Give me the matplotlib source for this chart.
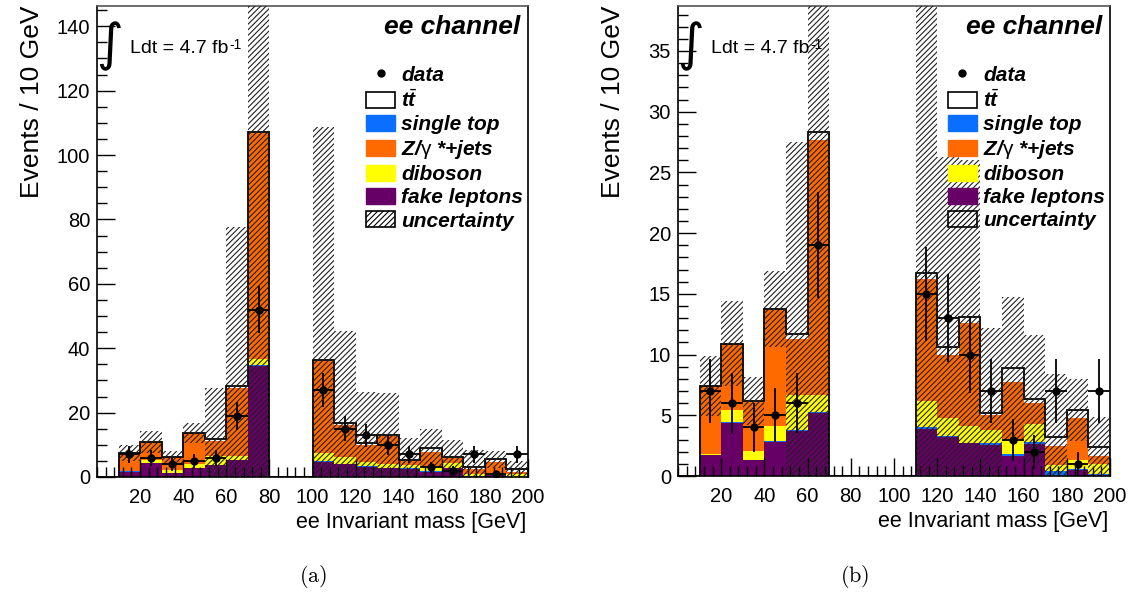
import numpy as np
import matplotlib.pyplot as plt
from matplotlib.patches import Patch
from matplotlib.lines import Line2D
from matplotlib.ticker import MultipleLocator

plt.rcParams['font.family'] = ['Liberation Sans', 'DejaVu Sans']
plt.rcParams['mathtext.fontset'] = 'custom'
plt.rcParams['mathtext.rm'] = 'Liberation Sans'
plt.rcParams['mathtext.it'] = 'Liberation Sans:italic:bold'
plt.rcParams['mathtext.bf'] = 'Liberation Sans:bold'
plt.rcParams['hatch.linewidth'] = 0.8

# colours of the stack
c_tt = 'white'
c_st = '#0A6EFF'
c_z = '#FF6A00'
c_db = '#FFFF00'
c_fk = '#660066'

# ---- panel (a): bin low edges [GeV], 10 GeV bins
lo_a = [10, 20, 30, 40, 50, 60, 70, 100, 110, 120, 130, 140, 150, 160, 170, 180, 190]
fake_a = [1.7, 4.4, 1.3, 2.8, 3.7, 5.2, 34.6, 4.8, 3.9, 3.2, 2.7, 2.55, 1.65, 2.65, 0.0, 0.5, 0.1]
stop_a = [0.05, 0.05, 0.02, 0.05, 0.05, 0.05, 0.2, 0.15, 0.1, 0.08, 0.05, 0.14, 0.16, 0.18, 0.45, 0.05, 0.05]
dib_a = [0.1, 0.95, 0.7, 1.3, 2.9, 1.4, 1.9, 2.6, 2.2, 1.5, 1.4, 1.1, 1.2, 1.45, 0.45, 0.8, 0.85]
zjet_a = [5.55, 5.48, 4.08, 9.55, 4.65, 21.05, 70.3, 28.45, 10.0, 5.22, 8.45, 1.26, 4.76, 1.71, 1.6, 3.4, 0.65]
ttbar_a = [0.02, 0.0, 0.08, 0.05, 0.4, 0.65, 0.2, 0.3, 0.5, 0.66, 0.5, 0.11, 1.1, 0.36, 0.69, 0.69, 0.77]
unc_a = [2.5, 3.5, 2.0, 3.1, 15.8, 49.3, 150.0, 72.4, 28.6, 15.6, 12.9, 7.0, 5.9, 5.25, 5.2, 2.55, 2.47]
data_a = [7, 6, 4, 5, 6, 19, 52, 27, 15, 13, 10, 7, 3, 2, 7, 1, 7]

# ---- panel (b)
lo_b = [10, 20, 30, 40, 50, 60, 110, 120, 130, 140, 150, 160, 170, 180, 190]
fake_b = [1.7, 4.4, 1.3, 2.8, 3.7, 5.2, 3.9, 3.2, 2.7, 2.55, 1.65, 2.65, 0.0, 0.5, 0.1]
stop_b = [0.05, 0.05, 0.02, 0.05, 0.05, 0.05, 0.1, 0.08, 0.05, 0.14, 0.16, 0.18, 0.45, 0.05, 0.05]
dib_b = [0.1, 0.95, 0.7, 1.3, 2.9, 1.4, 2.2, 1.5, 1.4, 1.1, 1.2, 1.45, 0.45, 0.8, 0.85]
zjet_b = [5.55, 5.48, 4.08, 9.55, 4.65, 21.05, 10.0, 5.22, 8.45, 1.26, 4.76, 1.71, 1.6, 3.4, 0.65]
ttbar_b = [0.02, 0.0, 0.08, 0.05, 0.4, 0.65, 0.5, 0.66, 0.5, 0.11, 1.1, 0.36, 0.69, 0.69, 0.77]
unc_b = [2.5, 3.5, 2.0, 3.1, 15.8, 49.3, 28.6, 15.6, 12.9, 7.0, 5.9, 5.25, 5.2, 2.55, 2.47]
data_b = [7, 6, 4, 5, 6, 19, 15, 13, 10, 7, 3, 2, 7, 1, 7]

legend_labels = ['data', r'$t\bar{t}$', 'single top', r'Z/$\mathrm{\gamma}$ *+jets', 'diboson',
                 'fake leptons', 'uncertainty']


def draw_panel(ax, lo, fake, stop, dib, zjet, ttbar, unc, data, ymax, ymaj, ymin):
    lo = np.array(lo, dtype=float)
    x = lo + 5
    w = 10
    bottom = np.zeros(len(lo))
    for vals, col in [(fake, c_fk), (stop, c_st), (dib, c_db), (zjet, c_z), (ttbar, c_tt)]:
        vals = np.array(vals)
        ax.bar(x, vals, width=w, bottom=bottom, color=col, linewidth=0, zorder=1)
        bottom = bottom + vals
    total = bottom

    # outline of the full stack
    edges = np.arange(0, 210, 10)
    full = np.zeros(len(edges) - 1)
    full[(lo // 10).astype(int)] = total
    ax.stairs(full, edges, color='k', linewidth=1.3, zorder=2)

    # uncertainty band
    unc = np.array(unc)
    band_lo = np.clip(total - unc, 0, None)
    band_hi = total + unc
    ax.bar(x, band_hi - band_lo, width=w, bottom=band_lo, fill=False,
           hatch='//////', edgecolor='#202020', linewidth=0, zorder=3)

    data = np.array(data, dtype=float)
    ax.errorbar(x, data, xerr=5, yerr=np.sqrt(data), fmt='o', color='k',
                ms=5, elinewidth=1.3, capsize=0, zorder=4)

    ax.set_xlim(0, 200)
    ax.set_ylim(0, ymax)
    ax.set_xticks(np.arange(20, 201, 20))
    ax.xaxis.set_minor_locator(MultipleLocator(4))
    ax.yaxis.set_major_locator(MultipleLocator(ymaj))
    ax.yaxis.set_minor_locator(MultipleLocator(ymin))
    ax.tick_params(which='both', direction='in', top=False, right=False, labelsize=14.5, width=1)
    ax.tick_params(which='major', length=13)
    ax.tick_params(which='minor', length=7)
    ax.tick_params(axis='x', pad=8)
    ax.tick_params(axis='y', pad=5)
    for s in ax.spines.values():
        s.set_linewidth(1.2)
    ax.spines['top'].set_color('#555555')

    ax.set_xlabel('ee Invariant mass [GeV]', fontsize=15.5, loc='right')
    ax.xaxis.set_label_coords(0.996, -0.075)
    ax.set_ylabel('Events / 10 GeV', fontsize=19, loc='top')
    ax.yaxis.set_label_coords(-0.122, 1.0)

    ax.text(0.981, 0.955, 'ee channel', transform=ax.transAxes, ha='right', va='center',
            fontsize=19, fontweight='bold', fontstyle='italic')
    ax.text(0.030, 0.915, '∫', transform=ax.transAxes, ha='center', va='center',
            fontsize=37, family='DejaVu Sans')
    lum = ax.text(0.077, 0.910, 'Ldt = 4.7 fb', transform=ax.transAxes,
                  ha='left', va='center', fontsize=14)
    ax.annotate('-1', xy=(1.0, 1.0), xycoords=lum, xytext=(0.5, -4), textcoords='offset points',
                ha='left', va='center', fontsize=10)

    handles = [
        Line2D([], [], marker='o', ls='none', color='k', ms=5),
        Patch(facecolor=c_tt, edgecolor='k', linewidth=1.2),
        Patch(facecolor=c_st, edgecolor=c_st),
        Patch(facecolor=c_z, edgecolor=c_z),
        Patch(facecolor=c_db, edgecolor=c_db),
        Patch(facecolor=c_fk, edgecolor=c_fk),
        Patch(facecolor='white', edgecolor='k', hatch='//////', linewidth=1.2),
    ]
    ax.legend(handles, legend_labels, loc='upper left', bbox_to_anchor=(0.6, 0.895),
              frameon=False, handlelength=1.4, handleheight=0.8, handletextpad=0.3,
              labelspacing=0.19, borderpad=0.0,
              prop={'family': 'Liberation Sans', 'weight': 'bold', 'style': 'italic', 'size': 15})


fig = plt.figure(figsize=(11.37, 5.95), dpi=100)
ax_a = fig.add_axes([97 / 1137, 118 / 595, 431 / 1137, 471 / 595])
ax_b = fig.add_axes([678 / 1137, 119 / 595, 432 / 1137, 470 / 595])

draw_panel(ax_a, lo_a, fake_a, stop_a, dib_a, zjet_a, ttbar_a, unc_a, data_a, 146.3, 20, 5)
draw_panel(ax_b, lo_b, fake_b, stop_b, dib_b, zjet_b, ttbar_b, unc_b, data_b, 38.7, 5, 1)

fig.text(313 / 1137, 1 - 577 / 595, r'$\mathrm{(a)}$', ha='center', va='center',
         fontsize=16, math_fontfamily='cm')
fig.text(855 / 1137, 1 - 577 / 595, r'$\mathrm{(b)}$', ha='center', va='center',
         fontsize=16, math_fontfamily='cm')

fig.savefig('out.png', dpi=100)
